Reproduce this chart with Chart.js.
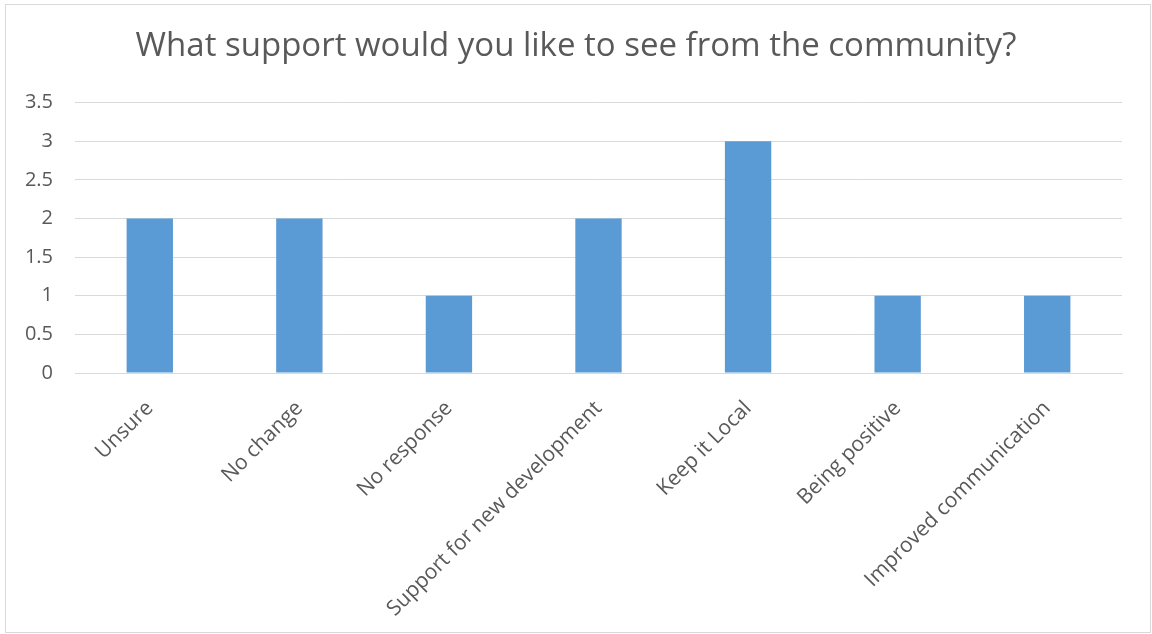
<!DOCTYPE html>
<html lang="en">
<head>
  <meta charset="UTF-8">
  <title>Community Support</title>
  <script src="https://cdn.jsdelivr.net/npm/chart.js@4"></script>
  <style>
    html, body { margin: 0; padding: 0; background: #fff; }
    #wrap { position: relative; width: 1152px; height: 634px; }
  </style>
</head>
<body>
  <div id="wrap">
    <canvas id="barChart"></canvas>
  </div>

  <script>
    const categories = [
      'Unsure',
      'No change',
      'No response',
      'Support for new development',
      'Keep it Local',
      'Being positive',
      'Improved communication'
    ];
    const responses = [2, 2, 1, 2, 3, 1, 1];
    const yTicks = [0, 0.5, 1, 1.5, 2, 2.5, 3, 3.5];

    const textColor = '#595959';
    const gridColor = '#d9d9d9';
    const fontFamily = '"Open Sans", sans-serif';

    // light frame round the whole chart
    const frame = {
      id: 'frame',
      beforeDraw(chart) {
        const { ctx } = chart;
        ctx.save();
        ctx.strokeStyle = gridColor;
        ctx.lineWidth = 1;
        ctx.strokeRect(5.5, 4.5, 1145, 628);
        ctx.restore();
      }
    };

    const ctx = document.getElementById('barChart').getContext('2d');
    new Chart(ctx, {
      type: 'bar',
      data: {
        labels: categories,
        datasets: [{
          data: responses,
          backgroundColor: '#5b9bd5',
          borderWidth: 0,
          categoryPercentage: 1,
          barPercentage: 0.31
        }]
      },
      options: {
        responsive: true,
        maintainAspectRatio: false,
        animation: false,
        layout: { padding: 0 },
        plugins: {
          legend: { display: false },
          tooltip: { enabled: false },
          title: {
            display: true,
            text: 'What support would you like to see from the community?',
            color: textColor,
            font: { family: fontFamily, size: 33, weight: 'normal' },
            padding: { top: 27, bottom: 36 }
          }
        },
        scales: {
          x: {
            grid: { display: false },
            border: { display: true, color: gridColor, width: 1 },
            ticks: {
              color: textColor,
              font: { family: fontFamily, size: 21 },
              minRotation: 45,
              maxRotation: 45,
              padding: 15
            },
            afterFit(scale) { scale.height = 261; }
          },
          y: {
            min: 0,
            max: 3.5,
            afterBuildTicks(scale) {
              scale.ticks = yTicks.map(v => ({ value: v }));
            },
            grid: { color: gridColor, drawTicks: false },
            border: { display: false },
            ticks: {
              color: textColor,
              font: { family: fontFamily, size: 20 },
              padding: 22,
              callback: v => String(v)
            },
            afterFit(scale) { scale.width = 75; }
          },
          // empty strip on the right so the title stays centred on the page
          yRight: {
            position: 'right',
            grid: { display: false },
            border: { display: false },
            ticks: { display: false },
            afterFit(scale) { scale.width = 30; }
          }
        }
      },
      plugins: [frame]
    });
  </script>
</body>
</html>
